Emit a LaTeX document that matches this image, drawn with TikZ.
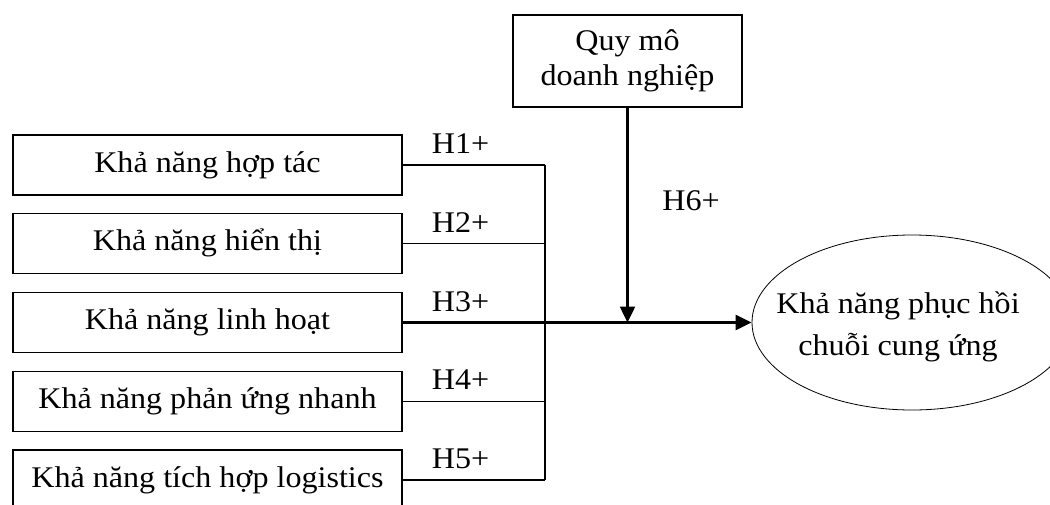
\documentclass[tikz,border=0pt]{standalone}
\usepackage{fontspec}
\setmainfont{Liberation Serif}[FakeStretch=1.07]
\usetikzlibrary{arrows.meta,shapes.geometric,calc}
\begin{document}
\begin{tikzpicture}[x=1pt,y=-1pt,
  every node/.style={font=\fontsize{30}{34}\selectfont},
  factor/.style={draw,line width=1.3pt,minimum width=389pt,minimum height=60pt,inner sep=0pt,text height=21pt,text depth=7pt},
  modbox/.style={draw,line width=1.3pt,minimum width=229pt,minimum height=92pt,inner sep=0pt,align=center,font=\fontsize{30}{35}\selectfont},
  outcome/.style={draw,ellipse,line width=0.8pt,minimum width=320pt,minimum height=175pt,inner sep=0pt},
  link/.style={line width=1.3pt},
  mainlink/.style={line width=2.5pt},
  tip/.style={-{Triangle[length=16pt,width=15pt]}},
  hyp/.style={anchor=base,inner sep=0pt}
]
\clip (0,0) rectangle (1050,504);
\node[factor] (b1) at (207.5,165)    {Khả năng hợp tác};
\node[factor] (b2) at (207.5,243.75) {Khả năng hiển thị};
\node[factor] (b3) at (207.5,322.5)  {Khả năng linh hoạt};
\node[factor] (b4) at (207.5,401.25) {Khả năng phản ứng nhanh};
\node[factor] (b5) at (207.5,480)    {Khả năng tích hợp logistics};
\node[modbox] (q) at (627.5,61) {Quy mô\\doanh nghiệp};
\node[outcome] (e) at (912,322.5) {};
\node[align=center,font=\fontsize{30}{42}\selectfont] (et) at (898,327) {Khả năng phục hồi\\chuỗi cung ứng};
\coordinate (bus) at (545,0);
\draw[link] (b1.east) -- (b1.east -| bus);
\draw[link] (b2.east) -- (b2.east -| bus);
\draw[link] (b4.east) -- (b4.east -| bus);
\draw[link] (b5.east) -- (b5.east -| bus);
\draw[link] (b1.east -| bus) -- (b5.east -| bus);
\draw[mainlink,tip] (b3.east) -- (b3.east -| e.west);
\coordinate (j) at (q.south |- b3.east);
\draw[mainlink,tip] (q.south) -- (j);
\node[hyp] (h1) at ($(b1.east)+(58,-11.5)$) {H1+};
\node[hyp] (h2) at ($(b2.east)+(58,-11.5)$) {H2+};
\node[hyp] (h3) at ($(b3.east)+(58,-11.5)$) {H3+};
\node[hyp] (h4) at ($(b4.east)+(58,-11.5)$) {H4+};
\node[hyp] (h5) at ($(b5.east)+(58,-11.5)$) {H5+};
\node[hyp] (h6) at (691,210) {H6+};
\end{tikzpicture}
\end{document}
